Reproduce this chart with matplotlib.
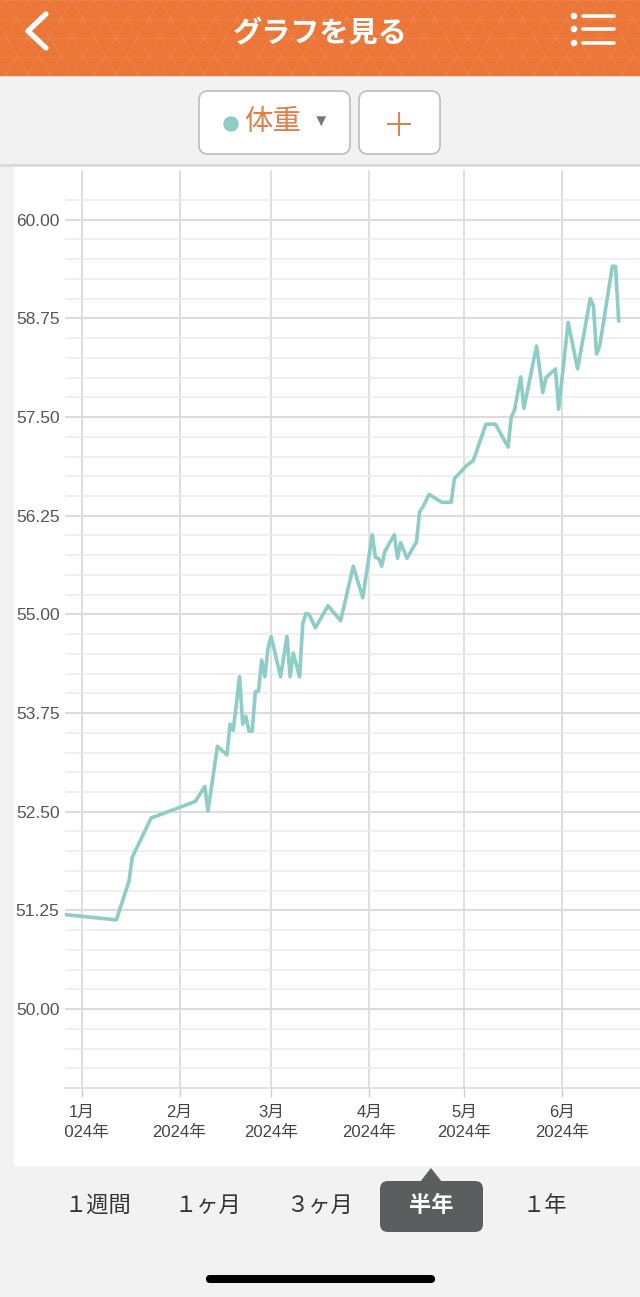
import matplotlib
matplotlib.use("Agg")
import matplotlib.pyplot as plt
from matplotlib.patches import Rectangle, FancyBboxPatch, Polygon, Circle
from matplotlib.ticker import FixedLocator
from matplotlib.transforms import Bbox, TransformedBbox
import numpy as np
import pandas as pd

plt.rcParams['font.family'] = ['Liberation Sans', 'Noto Sans CJK JP', 'DejaVu Sans']

# weight log
dates = ["2023-12-26", "2024-01-12", "2024-01-16", "2024-01-17", "2024-01-23",
         "2024-02-06", "2024-02-09", "2024-02-10", "2024-02-13", "2024-02-16",
         "2024-02-17", "2024-02-18", "2024-02-20", "2024-02-21", "2024-02-22",
         "2024-02-23", "2024-02-24", "2024-02-25", "2024-02-26", "2024-02-27",
         "2024-02-28", "2024-02-29", "2024-03-01", "2024-03-04", "2024-03-06",
         "2024-03-07", "2024-03-08", "2024-03-10", "2024-03-11", "2024-03-12",
         "2024-03-13", "2024-03-15", "2024-03-19", "2024-03-23", "2024-03-27",
         "2024-03-30", "2024-04-02", "2024-04-03", "2024-04-04", "2024-04-05",
         "2024-04-06", "2024-04-09", "2024-04-10", "2024-04-11", "2024-04-13",
         "2024-04-16", "2024-04-17", "2024-04-18", "2024-04-20", "2024-04-24",
         "2024-04-27", "2024-04-28", "2024-05-02", "2024-05-04", "2024-05-08",
         "2024-05-11", "2024-05-15", "2024-05-16", "2024-05-17", "2024-05-19",
         "2024-05-20", "2024-05-24", "2024-05-26", "2024-05-27", "2024-05-30",
         "2024-05-31", "2024-06-03", "2024-06-06", "2024-06-10", "2024-06-11",
         "2024-06-12", "2024-06-13", "2024-06-17", "2024-06-18", "2024-06-19"]
weights = [51.20, 51.13, 51.62, 51.92, 52.42,
           52.63, 52.82, 52.51, 53.33, 53.22,
           53.61, 53.53, 54.21, 53.61, 53.71,
           53.52, 53.52, 54.02, 54.03, 54.42,
           54.21, 54.57, 54.72, 54.21, 54.72,
           54.21, 54.51, 54.21, 54.88, 55.01,
           55.00, 54.83, 55.11, 54.92, 55.61,
           55.21, 56.01, 55.72, 55.71, 55.61,
           55.80, 56.01, 55.71, 55.91, 55.71,
           55.92, 56.30, 56.36, 56.52, 56.42,
           56.42, 56.72, 56.89, 56.95, 57.41,
           57.41, 57.12, 57.50, 57.58, 58.01,
           57.61, 58.40, 57.81, 58.00, 58.11,
           57.60, 58.70, 58.11, 59.00, 58.91,
           58.30, 58.40, 59.41, 59.41, 58.72]

month_ticks = ["2024-01-01", "2024-02-01", "2024-03-01", "2024-04-01", "2024-05-01", "2024-06-01"]
month_labels = ["1月\n2024年", "2月\n2024年", "3月\n2024年", "4月\n2024年", "5月\n2024年", "6月\n2024年"]
y_ticks = [50.00, 51.25, 52.50, 53.75, 55.00, 56.25, 57.50, 58.75, 60.00]
tabs = ["１週間", "１ヶ月", "３ヶ月", "半年", "１年"]
tab_x = [98, 208, 320, 431, 545]
selected = "半年"

orange = '#ec7638'
teal = '#8dcdc6'
W, H = 640, 1297

fig = plt.figure(figsize=(W / 100, H / 100), dpi=100)
fig.patch.set_facecolor('#f2f2f2')

# background layer in pixel coords (y down)
bg = fig.add_axes([0, 0, 1, 1])
bg.set_xlim(0, W)
bg.set_ylim(H, 0)
bg.axis('off')

# header
bg.add_patch(Rectangle((0, 0), W, 75, color=orange, zorder=1))
for yy in range(0, 76, 19):
    bg.plot([0, W], [yy, yy], color='white', alpha=0.08, lw=0.8, zorder=2)
for x0 in range(-60, W + 60, 22):
    bg.plot([x0, x0 + 45], [0, 76], color='white', alpha=0.08, lw=0.8, zorder=2)
    bg.plot([x0, x0 - 45], [0, 76], color='white', alpha=0.08, lw=0.8, zorder=2)
bg.text(320, 33, "グラフを見る", fontsize=21, fontweight='bold', color='white',
        ha='center', va='center', zorder=3)
bg.plot([46, 28, 46], [14, 31, 48], color='white', lw=3.8,
        solid_capstyle='round', solid_joinstyle='round', zorder=3)
for yy in [16, 29, 43]:
    bg.add_patch(Circle((574, yy), 2.6, color='white', zorder=3))
    bg.plot([583, 614], [yy, yy], color='white', lw=2.6, solid_capstyle='round', zorder=3)

# selector buttons
bg.plot([0, W], [165, 165], color='#dadada', lw=2, zorder=1)
bg.add_patch(FancyBboxPatch((199, 91), 151, 63, boxstyle="round,pad=0,rounding_size=9",
                            fc='white', ec='#bdbdbd', lw=1.2, zorder=2))
bg.add_patch(FancyBboxPatch((359, 91), 81, 63, boxstyle="round,pad=0,rounding_size=9",
                            fc='white', ec='#bdbdbd', lw=1.2, zorder=2))
bg.add_patch(Circle((231, 124), 7, color=teal, zorder=3))
bg.text(273, 123, "体重", fontsize=20.5, color='#e07f45', ha='center', va='center', zorder=3)
bg.text(321, 121, "▼", fontsize=12, color='#777777', ha='center', va='center', zorder=3)
bg.plot([388, 410], [124, 124], color='#e07f45', lw=1.4, zorder=3)
bg.plot([399, 399], [113, 135], color='#e07f45', lw=1.4, zorder=3)

# white chart card
bg.add_patch(Rectangle((14, 167), W - 14, 998, color='white', zorder=1))

# period tabs
bg.add_patch(FancyBboxPatch((380, 1181), 103, 51, boxstyle="round,pad=0,rounding_size=8",
                            fc='#5b5d5f', ec='none', zorder=2))
bg.add_patch(Polygon([(420, 1182), (431, 1168), (442, 1182)], closed=True,
                     fc='#5b5d5f', ec='none', zorder=2))
for label, xx in zip(tabs, tab_x):
    if label == selected:
        bg.text(xx, 1206, label, fontsize=16, fontweight='bold', color='white',
                ha='center', va='center', zorder=3)
    else:
        bg.text(xx, 1206, label, fontsize=16, color='#333333',
                ha='center', va='center', zorder=3)

bg.add_patch(FancyBboxPatch((206, 1275), 229, 8, boxstyle="round,pad=0,rounding_size=4",
                            fc='black', ec='none', zorder=2))

# chart
ax = fig.add_axes([65 / W, 1 - 1088 / H, (W - 65) / W, (1088 - 170) / H])
ax.set_facecolor('white')
ax.plot(pd.to_datetime(dates), weights, color=teal, lw=2.6, zorder=3)
ax.set_xlim(pd.Timestamp("2023-12-26 18:00"), pd.Timestamp("2024-06-25 18:00"))
ax.set_ylim(49.0, 60.63)

ax.set_yticks(y_ticks)
ax.set_yticklabels(["%.2f" % v for v in y_ticks])
ax.yaxis.set_minor_locator(FixedLocator(np.arange(49.25, 60.26, 0.25)))
ax.grid(True, axis='y', which='minor', color='#ececec', lw=1.1, zorder=0)
ax.grid(True, axis='y', which='major', color='#dcdcdc', lw=1.5, zorder=0)
ax.tick_params(axis='y', which='both', length=0, pad=4, labelsize=12.5, labelcolor='#555555')

ax.set_xticks(pd.to_datetime(month_ticks))
ax.set_xticklabels(month_labels)
ax.grid(True, axis='x', which='major', color='#d9d9d9', lw=1.2, zorder=0)
ax.tick_params(axis='x', length=6.5, width=1, color='#d0d0d0', pad=6,
               labelsize=12, labelcolor='#444444')

for s in ['top', 'right', 'left']:
    ax.spines[s].set_visible(False)
ax.spines['bottom'].set_color('#dcdcdc')
ax.spines['bottom'].set_linewidth(1.2)

clip = TransformedBbox(Bbox.from_extents(65 / W, 0, 1, 1), fig.transFigure)
for tick in ax.xaxis.get_major_ticks():
    tick.label1.set_linespacing(1.35)
    tick.label1.set_clip_box(clip)
    tick.label1.set_clip_on(True)

fig.savefig('out.png', dpi=100)
